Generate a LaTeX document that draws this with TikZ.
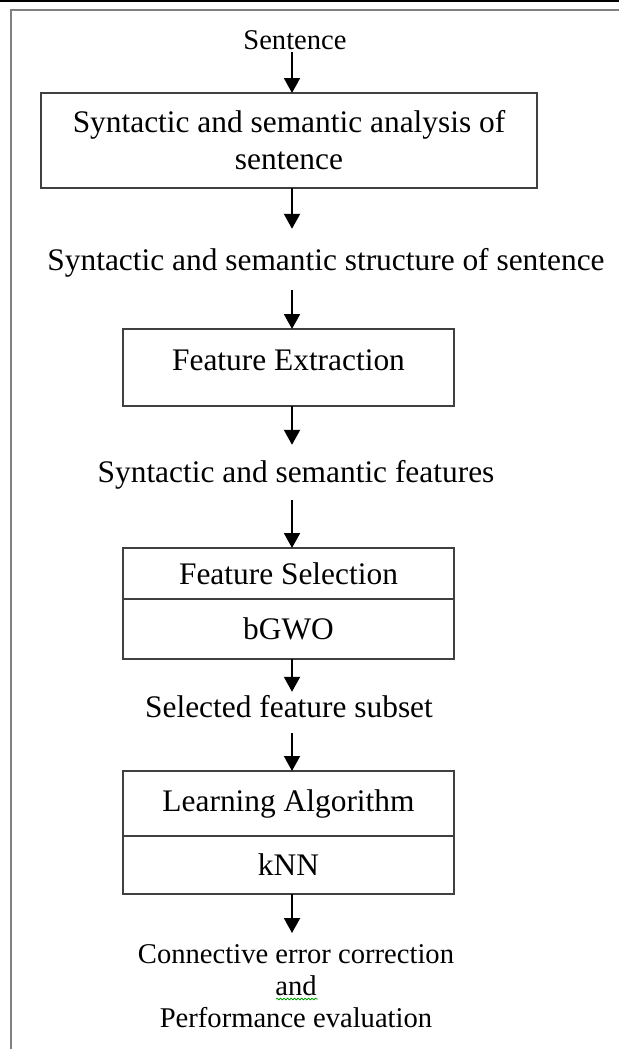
\documentclass[tikz,border=0pt]{standalone}
\usepackage{fontspec}
\setmainfont{Liberation Serif}
\usetikzlibrary{positioning,arrows.meta,decorations.pathmorphing}

\begin{document}
\begin{tikzpicture}[x=1pt, y=-1pt,
      box/.style = {shape=rectangle, draw=black!75, line width=2pt,
        minimum width=331pt, inner sep=0pt, outer sep=0pt,
        font=\fontsize{31.4}{37}\selectfont},
      lbl/.style = {inner sep=0pt, anchor=base,
        font=\fontsize{31.4}{37}\selectfont},
      small/.style = {inner xsep=0pt, align=center,
        font=\fontsize{28.6}{32}\selectfont},
      arr/.style = {line width=2pt, -{Triangle[width=16pt,length=15pt]}}]
  \useasboundingbox (0,0) rectangle (619,1049);
  % page rule and frame
  \draw[line width=2pt] (0,1.5) -- (619,1.5);
  \draw[black!50, line width=2.5pt] (11,1049) -- (11,10) -- (619,10);
  \coordinate (col) at (292,0);

  \node[small, inner sep=0pt, anchor=base, text height=20pt, text depth=2.5pt]
    (sent) at (295,49.5) {Sentence};
  \node[box, minimum width=496pt, minimum height=95pt, align=center]
    (analysis) at (289,140.5) {Syntactic and semantic analysis of\\ sentence};
  \node[lbl, text height=41pt, text depth=20pt]
    (struct) at (326,270) {Syntactic and semantic structure of sentence};
  \node[box, minimum height=77pt, text depth=15pt]
    (extract) at (288.5,367.5) {Feature Extraction};
  \node[lbl, text height=37pt, text depth=18pt]
    (feats) at (296,482) {Syntactic and semantic features};
  \node[box, minimum height=51pt] (fsel) at (288.5,573.5) {Feature Selection};
  \node[box, minimum height=60pt, below=0pt of fsel] (bgwo) {bGWO};
  \node[lbl, text height=25pt, text depth=16pt]
    (subset) at (289,717) {Selected feature subset};
  \node[box, minimum height=65pt] (learn) at (288.5,803.5) {Learning Algorithm};
  \node[box, minimum height=58pt, below=0pt of learn] (knn) {kNN};
  \node[small, inner ysep=11pt, anchor=north] (result) at (296,933)
    {Connective error correction\\ and\\ Performance evaluation};
  % spell-check mark
  \draw[green!60!black, line width=0.8pt, decorate,
    decoration={snake, amplitude=0.8pt, segment length=3.5pt}] (276,999) -- (318,999);

  \draw[arr] (sent.south -| col) -- (analysis.north -| col);
  \draw[arr] (analysis.south -| col) -- (struct.north -| col);
  \draw[arr] (struct.south -| col) -- (extract.north -| col);
  \draw[arr] (extract.south -| col) -- (feats.north -| col);
  \draw[arr] (feats.south -| col) -- (fsel.north -| col);
  \draw[arr] (bgwo.south -| col) -- (subset.north -| col);
  \draw[arr] (subset.south -| col) -- (learn.north -| col);
  \draw[arr] (knn.south -| col) -- (result.north -| col);
\end{tikzpicture}
\end{document}
